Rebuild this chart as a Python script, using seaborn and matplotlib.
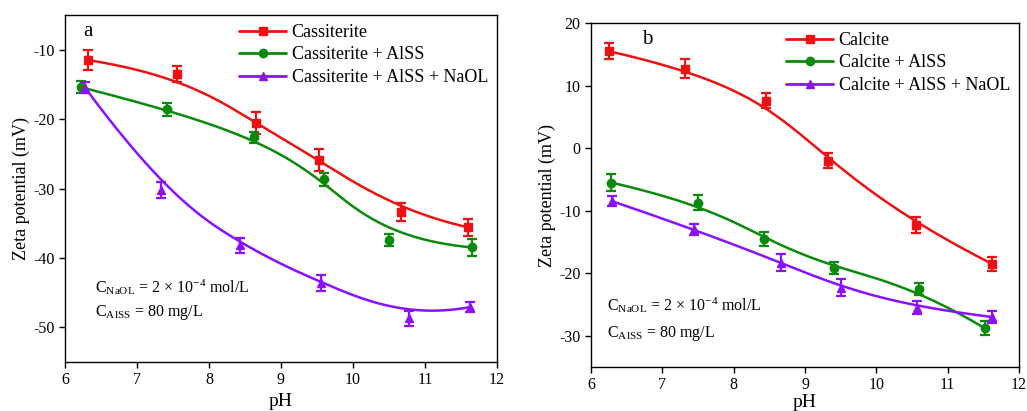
import numpy as np
import pandas as pd
import matplotlib
matplotlib.use("Agg")
import matplotlib.pyplot as plt
import seaborn as sns
from matplotlib.lines import Line2D

# ---------------- data ----------------
# Panel a (Cassiterite)
a_names = ["Cassiterite", "Cassiterite + AlSS", "Cassiterite + AlSS + NaOL"]
a_red_x = [6.32, 7.55, 8.65, 9.53, 10.67, 11.60]
a_red_y = [-11.5, -13.5, -20.6, -25.9, -33.4, -35.6]
a_red_e = [1.4, 1.1, 1.6, 1.6, 1.3, 1.2]
a_grn_x = [6.22, 7.42, 8.63, 9.60, 10.50, 11.66]
a_grn_y = [-15.4, -18.6, -22.6, -28.7, -37.4, -38.5]
a_grn_e = [0.9, 0.9, 0.8, 1.0, 0.9, 1.2]
a_pur_x = [6.28, 7.33, 8.43, 9.55, 10.78, 11.62]
a_pur_y = [-15.5, -30.2, -38.2, -43.6, -48.7, -47.1]
a_pur_e = [0.8, 1.1, 1.1, 1.1, 1.1, 0.7]

# Panel b (Calcite)
b_names = ["Calcite", "Calcite + AlSS", "Calcite + AlSS + NaOL"]
b_red_x = [6.25, 7.32, 8.45, 9.32, 10.55, 11.62]
b_red_y = [15.5, 12.7, 7.6, -2.0, -12.3, -18.5]
b_red_e = [1.3, 1.5, 1.2, 1.2, 1.3, 1.1]
b_grn_x = [6.28, 7.50, 8.43, 9.40, 10.60, 11.52]
b_grn_y = [-5.5, -8.7, -14.5, -19.2, -22.5, -28.8]
b_grn_e = [1.4, 1.2, 1.1, 1.0, 1.0, 1.1]
b_pur_x = [6.30, 7.45, 8.67, 9.50, 10.57, 11.62]
b_pur_y = [-8.5, -13.0, -18.3, -22.3, -25.5, -27.0]
b_pur_e = [0.8, 0.9, 1.3, 1.3, 1.1, 1.0]

xticks = [6, 7, 8, 9, 10, 11, 12]
a_yticks = [-10, -20, -30, -40, -50]
b_yticks = [20, 10, 0, -10, -20, -30]

colors = ["#ee1111", "#0a8a0a", "#8b10ff"]
markers = ["s", "o", "^"]


def bspline(x, y, n=300):
    """Clamped cubic B-spline using the data points as control points."""
    P = np.column_stack([x, y]).astype(float)
    m = len(P)
    k = 3
    inner = np.arange(1, m - k)
    t = np.concatenate([[0] * (k + 1), inner, [m - k] * (k + 1)]).astype(float)
    u = np.linspace(0, m - k, n)
    u[-1] -= 1e-9

    def N(i, p, uu):
        if p == 0:
            return ((t[i] <= uu) & (uu < t[i + 1])).astype(float)
        a = np.zeros_like(uu)
        b = np.zeros_like(uu)
        if t[i + p] != t[i]:
            a = (uu - t[i]) / (t[i + p] - t[i]) * N(i, p - 1, uu)
        if t[i + p + 1] != t[i + 1]:
            b = (t[i + p + 1] - uu) / (t[i + p + 1] - t[i + 1]) * N(i + 1, p - 1, uu)
        return a + b

    B = np.column_stack([N(i, k, u) for i in range(m)])
    C = B @ P
    return C[:, 0], C[:, 1]


sns.set_style("ticks")
plt.rcParams["font.family"] = ["Liberation Serif", "DejaVu Serif"]
plt.rcParams["mathtext.fontset"] = "stix"
plt.rcParams["axes.linewidth"] = 1.0
plt.rcParams["axes.unicode_minus"] = False
plt.rcParams["text.color"] = "black"
plt.rcParams["axes.labelcolor"] = "black"
plt.rcParams["xtick.color"] = "black"
plt.rcParams["ytick.color"] = "black"

fig = plt.figure(figsize=(10.27, 4.11), dpi=100)
axa = fig.add_axes([0.0633, 0.1192, 0.4206, 0.8443])
axb = fig.add_axes([0.5755, 0.1070, 0.4167, 0.8370])

panels = [
    (axa, a_names,
     [(a_red_x, a_red_y, a_red_e), (a_grn_x, a_grn_y, a_grn_e), (a_pur_x, a_pur_y, a_pur_e)],
     (-55, -5), a_yticks, "a", (6.26, -7.4), (6.42, -44.2), (6.42, -47.8), 3),
    (axb, b_names,
     [(b_red_x, b_red_y, b_red_e), (b_grn_x, b_grn_y, b_grn_e), (b_pur_x, b_pur_y, b_pur_e)],
     (-35, 20), b_yticks, "b", (6.72, 17.3), (6.22, -25.2), (6.22, -29.7), 0.5),
]

for ax, names, series, ylim, yt, lab, labpos, t1, t2, xpad in panels:
    handles = []
    for (x, y, e), name, col, mk in zip(series, names, colors, markers):
        xs, ys = bspline(x, y)
        df = pd.DataFrame({"pH": xs, "zeta": ys})
        sns.lineplot(data=df, x="pH", y="zeta", ax=ax, color=col, lw=1.8,
                     sort=False, estimator=None)
        ax.errorbar(x, y, yerr=e, fmt=mk, color=col, ms=6, capsize=3.5,
                    elinewidth=1.6, capthick=1.6, zorder=3)
        handles.append(Line2D([0], [0], color=col, lw=2, marker=mk, ms=6))
    ax.set_xlim(6, 12)
    ax.set_ylim(*ylim)
    ax.set_xticks(xticks)
    ax.set_yticks(yt)
    ax.tick_params(direction="out", length=4, width=1, labelsize=11.5,
                   top=False, right=False)
    for s in ax.spines.values():
        s.set_visible(True)
        s.set_color("black")
    ax.set_xlabel("pH", fontsize=14, labelpad=xpad)
    ax.set_ylabel("Zeta potential (mV)", fontsize=13, labelpad=2)
    ax.legend(handles, names, loc="upper right", frameon=False, fontsize=13,
              handlelength=2.6, handletextpad=0.3, labelspacing=0.3,
              borderaxespad=0.1)
    ax.text(labpos[0], labpos[1], lab, fontsize=15, ha="left", va="center")
    ax.text(t1[0], t1[1], r"C$_{\mathregular{NaOL}}$ = 2 × 10$^{\mathregular{-4}}$ mol/L",
            fontsize=11.5, ha="left", va="center")
    ax.text(t2[0], t2[1], r"C$_{\mathregular{AlSS}}$ = 80 mg/L",
            fontsize=11.5, ha="left", va="center")

fig.savefig("out.png", dpi=100)
